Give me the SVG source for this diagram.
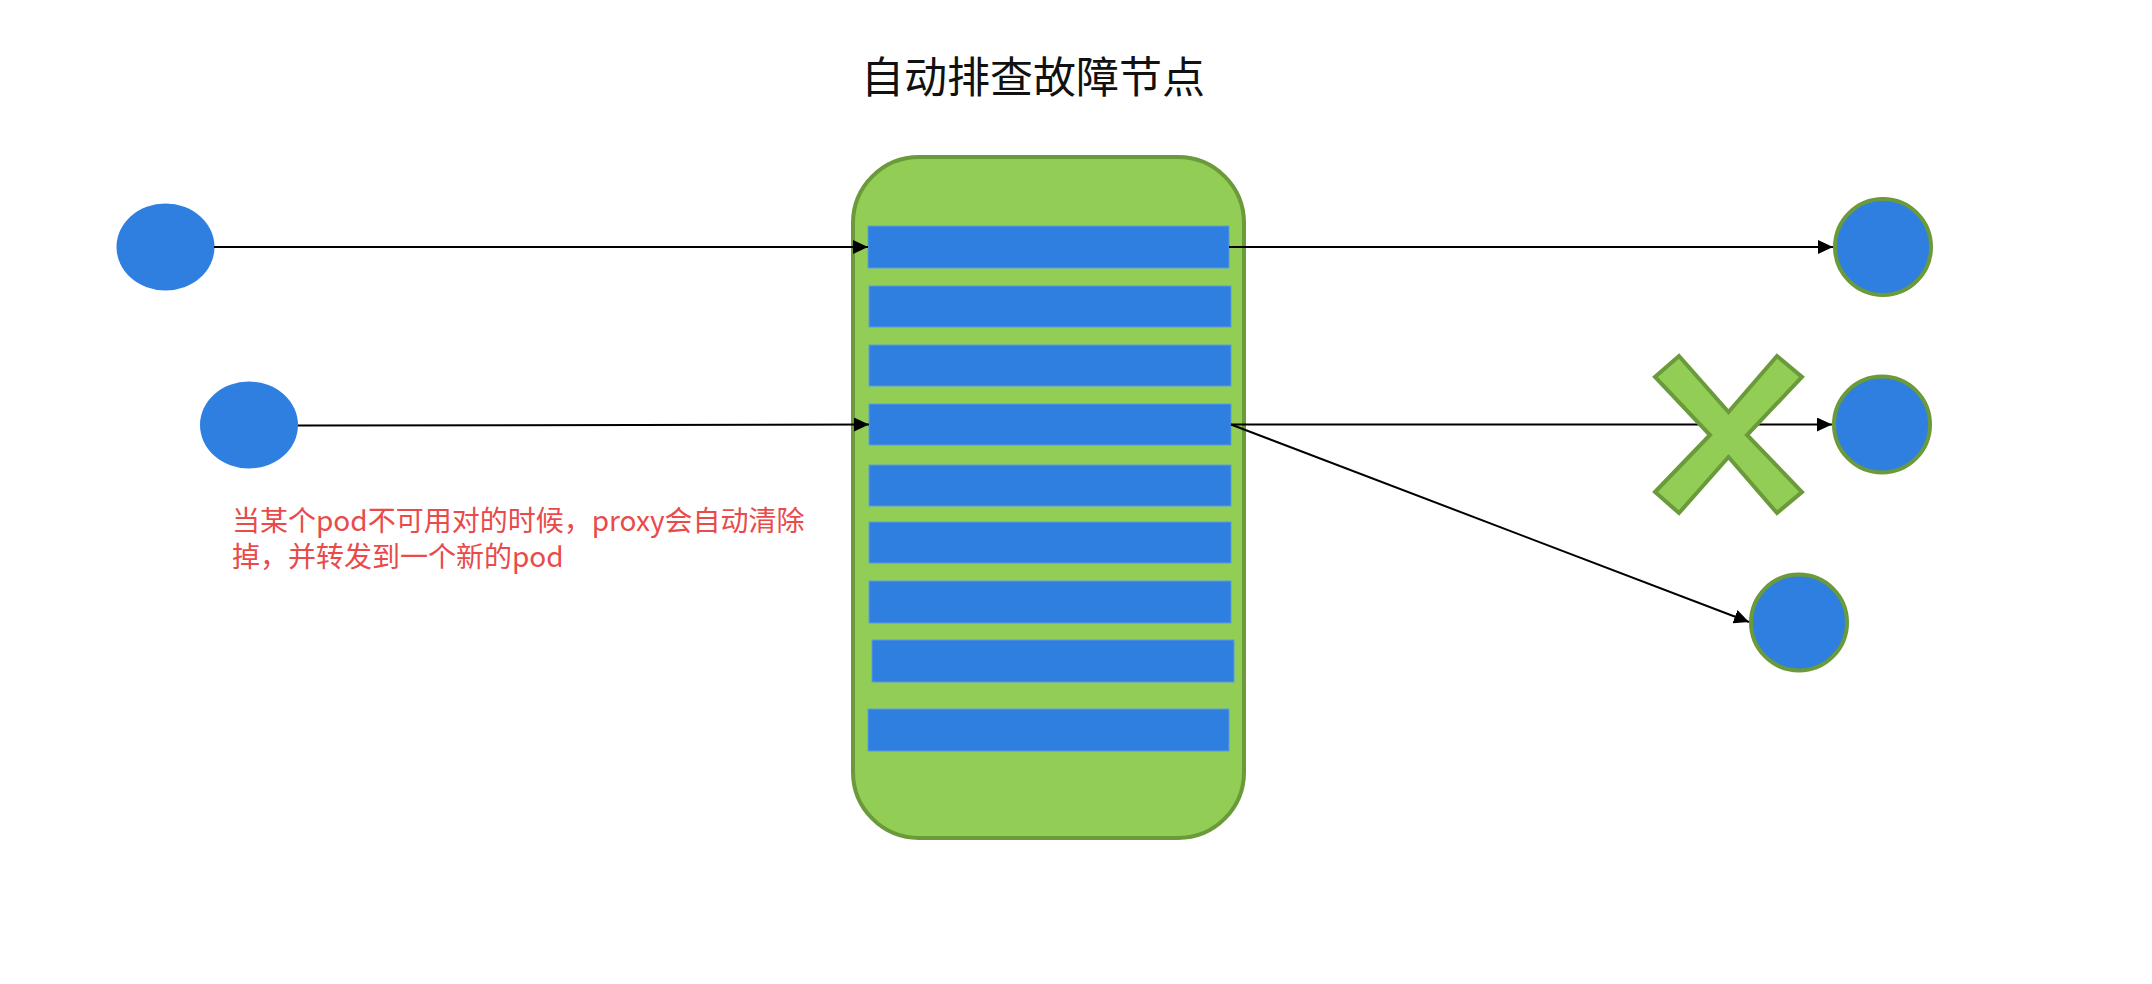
<svg xmlns="http://www.w3.org/2000/svg" width="2152" height="984" viewBox="0 0 2152 984">
  <style>
    .bar { fill: #2f7fe0; stroke: #5a9be2; stroke-width: 1; }
    .pod { fill: #2f7fe0; stroke: #6a9a3a; stroke-width: 4; }
    .client { fill: #2f7fe0; }
    .conn { stroke: #000; stroke-width: 2; fill: none; marker-end: url(#arrow); }
    .title { font-family: "Liberation Serif", "Noto Sans CJK SC", serif; font-size: 43px; fill: #111; }
    .note { font-family: "Noto Sans CJK SC", "Liberation Sans", sans-serif; font-size: 28px; fill: #e94a4a; }
  </style>
  <defs>
    <marker id="arrow" markerUnits="userSpaceOnUse" markerWidth="15" markerHeight="14" refX="15" refY="7" orient="auto">
      <path d="M0,0 L15,7 L0,14 Z" fill="#000"/>
    </marker>
  </defs>
  <rect width="2152" height="984" fill="#fff"/>

  <g id="title">
    <text class="title" x="1033" y="93" text-anchor="middle">自动排查故障节点</text>
  </g>

  <g id="proxy">
    <rect x="853" y="157" width="391" height="681" rx="66" ry="66" fill="#92cd55" stroke="#6a9a3a" stroke-width="4"/>
    <rect class="bar" x="868" y="226" width="361" height="42"/>
    <rect class="bar" x="869" y="286" width="362" height="41"/>
    <rect class="bar" x="869" y="345" width="362" height="41"/>
    <rect class="bar" x="869" y="404" width="362" height="41"/>
    <rect class="bar" x="869" y="465" width="362" height="41"/>
    <rect class="bar" x="869" y="522" width="362" height="41"/>
    <rect class="bar" x="869" y="581" width="362" height="42"/>
    <rect class="bar" x="872" y="640" width="362" height="42"/>
    <rect class="bar" x="868" y="709" width="361" height="42"/>
  </g>

  <g id="client1"><ellipse class="client" cx="165.5" cy="247" rx="49" ry="43.5"/></g>
  <g id="client2"><ellipse class="client" cx="249" cy="425" rx="49" ry="43.5"/></g>

  <g id="pod1"><circle class="pod" cx="1883" cy="247" r="48"/></g>
  <g id="pod2"><circle class="pod" cx="1882" cy="424.5" r="48"/></g>
  <g id="pod3"><circle class="pod" cx="1799" cy="622.5" r="48"/></g>

  <g id="connectors">
    <line class="conn" x1="214" y1="247" x2="868" y2="247"/>
    <line class="conn" x1="298" y1="425.5" x2="869" y2="424.5"/>
    <line class="conn" x1="1229" y1="247" x2="1833" y2="247"/>
    <line class="conn" x1="1231" y1="424.5" x2="1832" y2="424.5"/>
    <line class="conn" x1="1231" y1="424.5" x2="1749" y2="622"/>
  </g>

  <g id="cross">
    <polygon points="1679,356 1728.5,412 1777,356 1802,377 1747,435 1802,492 1777,513 1728.5,457 1679,513 1655,492 1710,435 1655,377" fill="#92cd55" stroke="#6a9a3a" stroke-width="4" stroke-linejoin="miter"/>
  </g>

  <g id="note">
    <text class="note" x="232" y="531">当某个pod不可用对的时候，proxy会自动清除</text>
    <text class="note" x="232" y="567">掉，并转发到一个新的pod</text>
  </g>
</svg>
